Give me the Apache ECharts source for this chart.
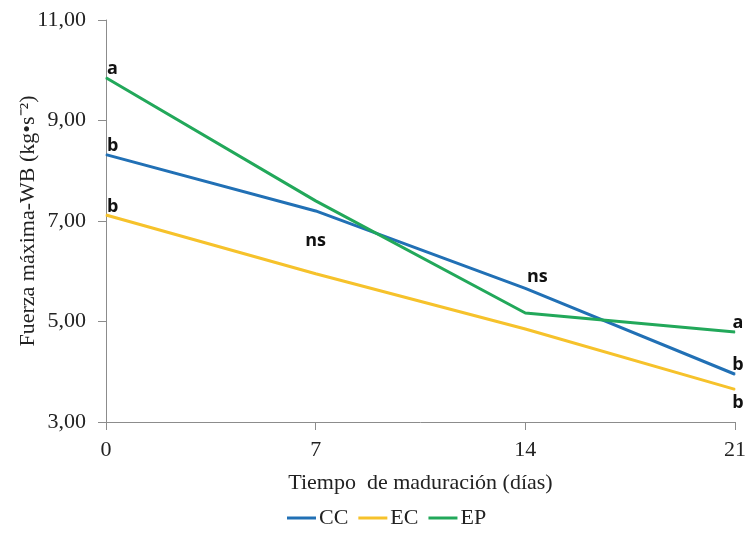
<!DOCTYPE html>
<html><head><meta charset="utf-8">
<script src="https://cdn.jsdelivr.net/npm/echarts@6/dist/echarts.min.js"></script>
<style>html,body{margin:0;padding:0;background:#fff}#c{width:748px;height:545px}</style>
</head><body><div id="c"></div>
<script>
const days = [0, 7, 14, 21];
const xTicks = [0, 7, 14, 21];
const seriesNames = ['CC', 'EC', 'EP'];
const valuesCC = [8.32, 7.20, 5.66, 3.95];
const valuesEC = [7.12, 5.95, 4.85, 3.65];
const valuesEP = [9.85, 7.40, 5.17, 4.79];
const sigCC = ['b', 'ns', 'ns', 'b'];
const sigEC = ['b', '', '', 'b'];
const sigEP = ['a', '', '', 'a'];
const colors = ['#2170B5', '#F6C22B', '#22A85A'];

const serif = 'Liberation Serif';
const annFont = {fontFamily: 'Open Sans', fontWeight: 'bold', fontSize: 18, color: '#111'};

function labelFor(name, i, text) {
  if (!text) return {show: false};
  const last = i === days.length - 1;
  let lab = Object.assign({show: true, formatter: text}, annFont);
  if (i === 0) {
    Object.assign(lab, {position: 'top', align: 'left', distance: 0, offset: [1, 1]});
  } else if (last) {
    if (name === 'EC') Object.assign(lab, {position: 'bottom', align: 'center', distance: 4, offset: [3, 0]});
    else Object.assign(lab, {position: 'top', align: 'center', distance: 0, offset: [3, 0]});
  } else if (i === 1) {
    Object.assign(lab, {position: 'bottom', align: 'center', distance: 20, offset: [0, 0]});
  } else {
    Object.assign(lab, {position: 'top', align: 'center', distance: 2, offset: [12, 0]});
  }
  return lab;
}

function build(name, vals, sig, color) {
  return {
    name: name, type: 'line', color: color,
    symbol: 'circle', symbolSize: 1, showSymbol: true,
    lineStyle: {width: 3, color: color},
    itemStyle: {color: color},
    data: vals.map((v, i) => ({value: [days[i], v], label: labelFor(name, i, sig[i])})),
    z: name === 'EP' ? 3 : 2
  };
}

const chart = echarts.init(document.getElementById('c'));
chart.setOption({
  animation: false,
  grid: {left: 106, right: 13, top: 20, bottom: 123, containLabel: false, outerBoundsMode: 'none'},
  legend: {
    data: seriesNames, bottom: 11, left: 282,
    icon: 'rect', itemWidth: 29, itemHeight: 3, itemGap: 10,
    textStyle: {fontFamily: serif, fontSize: 22, color: '#222', padding: [0, 0, 0, -2]}
  },
  xAxis: {
    type: 'value', min: 0, max: 21, interval: 7,
    name: 'Tiempo  de maduración (días)', nameLocation: 'middle', nameGap: 50,
    nameTextStyle: {fontFamily: serif, fontSize: 22, color: '#222'},
    axisLine: {lineStyle: {color: '#8c8c8c', width: 1}},
    axisTick: {show: true, length: 8, inside: false, lineStyle: {color: '#8c8c8c'}},
    axisLabel: {fontFamily: serif, fontSize: 22, color: '#222', margin: 17,
      formatter: v => xTicks.includes(v) ? String(v) : ''},
    splitLine: {show: false}
  },
  yAxis: {
    type: 'value', min: 3, max: 11, interval: 2,
    name: 'Fuerza máxima-WB (kg•s⁻²)', nameLocation: 'middle', nameGap: 67,
    nameMoveOverlap: false,
    nameTextStyle: {fontFamily: serif, fontSize: 22, color: '#222'},
    axisLine: {show: true, lineStyle: {color: '#8c8c8c', width: 1}},
    axisTick: {show: true, length: 8, lineStyle: {color: '#8c8c8c'}},
    axisLabel: {fontFamily: serif, fontSize: 22, color: '#222', margin: 20,
      formatter: v => v.toFixed(2).replace('.', ',')},
    splitLine: {show: false}
  },
  series: [
    build('CC', valuesCC, sigCC, colors[0]),
    build('EC', valuesEC, sigEC, colors[1]),
    build('EP', valuesEP, sigEP, colors[2])
  ]
});
</script></body></html>
